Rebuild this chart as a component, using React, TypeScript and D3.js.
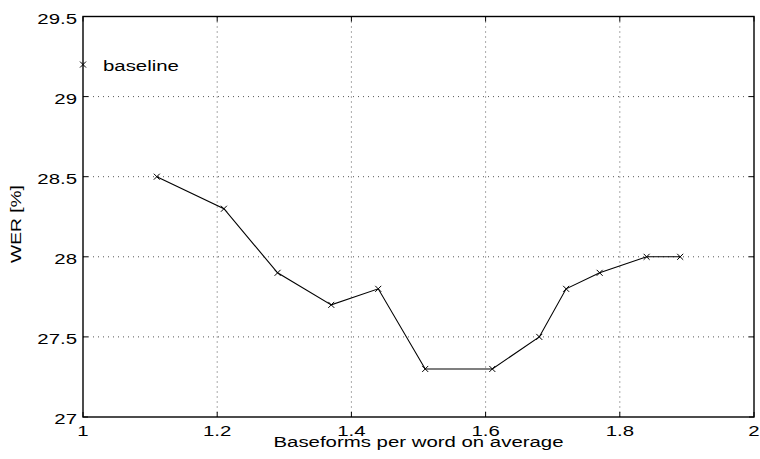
import React from "react";
import * as d3 from "d3";

const xValues = [1.11, 1.21, 1.29, 1.37, 1.44, 1.51, 1.61, 1.68, 1.72, 1.77, 1.84, 1.89];
const werValues = [28.5, 28.3, 27.9, 27.7, 27.8, 27.3, 27.3, 27.5, 27.8, 27.9, 28.0, 28.0];
const baselineX = 1.0;
const baselineWER = 29.2;
const xTicks = [1, 1.2, 1.4, 1.6, 1.8, 2];
const yTicks = [27, 27.5, 28, 28.5, 29, 29.5];

const W = 760, H = 459;
const M = { left: 83, right: 754, top: 16.5, bottom: 417 };
const FONT = "'Liberation Sans', Arial, Helvetica, sans-serif";
const SX = 1.36;

function Label({ x, y, anchor = "start", rotate = 0, children }: any) {
  return (
    <text
      transform={`translate(${x},${y}) rotate(${rotate}) scale(${SX},1)`}
      textAnchor={anchor}
      fontFamily={FONT}
      fontSize={15}
      fill="#000"
    >
      {children}
    </text>
  );
}

function Cross({ cx, cy }: { cx: number; cy: number }) {
  const s = 3;
  return (
    <g stroke="#000" strokeWidth={1}>
      <line x1={cx - s} y1={cy - s} x2={cx + s} y2={cy + s} />
      <line x1={cx - s} y1={cy + s} x2={cx + s} y2={cy - s} />
    </g>
  );
}

export default function App() {
  const x = d3.scaleLinear().domain([1, 2]).range([M.left, M.right]);
  const y = d3.scaleLinear().domain([27, 29.5]).range([M.bottom, M.top]);
  const pts = xValues.map((v, i) => [v, werValues[i]] as [number, number]);
  const line = d3.line<[number, number]>().x(d => x(d[0])).y(d => y(d[1]));
  const tick = 5;

  return (
    <div style={{ position: "fixed", left: 0, top: 0, width: W, height: H, background: "#fff" }}>
      <svg width={W} height={H} style={{ display: "block" }}>
        <rect width={W} height={H} fill="#fff" />
        {/* grid */}
        <g stroke="#555" strokeWidth={1} strokeDasharray="1,4">
          {xTicks.slice(1, -1).map(t => (
            <line key={"gx" + t} x1={x(t)} x2={x(t)} y1={M.top} y2={M.bottom} />
          ))}
          {yTicks.slice(1, -1).map(t => (
            <line key={"gy" + t} x1={M.left} x2={M.right} y1={y(t)} y2={y(t)} />
          ))}
        </g>
        {/* ticks */}
        <g stroke="#000" strokeWidth={1}>
          {xTicks.map(t => (
            <g key={"tx" + t}>
              <line x1={x(t)} x2={x(t)} y1={M.bottom} y2={M.bottom - tick} />
              <line x1={x(t)} x2={x(t)} y1={M.top} y2={M.top + tick} />
            </g>
          ))}
          {yTicks.map(t => (
            <g key={"ty" + t}>
              <line x1={M.left} x2={M.left + tick} y1={y(t)} y2={y(t)} />
              <line x1={M.right} x2={M.right - tick} y1={y(t)} y2={y(t)} />
            </g>
          ))}
        </g>
        {/* frame */}
        <rect x={M.left} y={M.top} width={M.right - M.left} height={M.bottom - M.top} fill="none" stroke="#000" strokeWidth={1.4} />
        {/* data */}
        <path d={line(pts) || ""} fill="none" stroke="#000" strokeWidth={1.1} />
        {pts.map((p, i) => <Cross key={i} cx={x(p[0])} cy={y(p[1])} />)}
        <Cross cx={x(baselineX)} cy={y(baselineWER)} />
        <Label x={x(baselineX) + 20} y={y(baselineWER) + 6.5}>baseline</Label>
        {/* tick labels */}
        {xTicks.map(t => (
          <Label key={"lx" + t} x={x(t)} y={M.bottom + 19} anchor="middle">{String(t)}</Label>
        ))}
        {yTicks.map(t => (
          <Label key={"ly" + t} x={M.left - 6} y={y(t) + 7} anchor="end">{String(t)}</Label>
        ))}
        {/* axis labels */}
        <Label x={(M.left + M.right) / 2} y={447} anchor="middle">Baseforms per word on average</Label>
        <text
          transform={`translate(21,${224}) rotate(-90) scale(1.28,1)`}
          textAnchor="middle"
          fontFamily={FONT}
          fontSize={15}
          fill="#000"
        >
          WER [%]
        </text>
      </svg>
    </div>
  );
}
